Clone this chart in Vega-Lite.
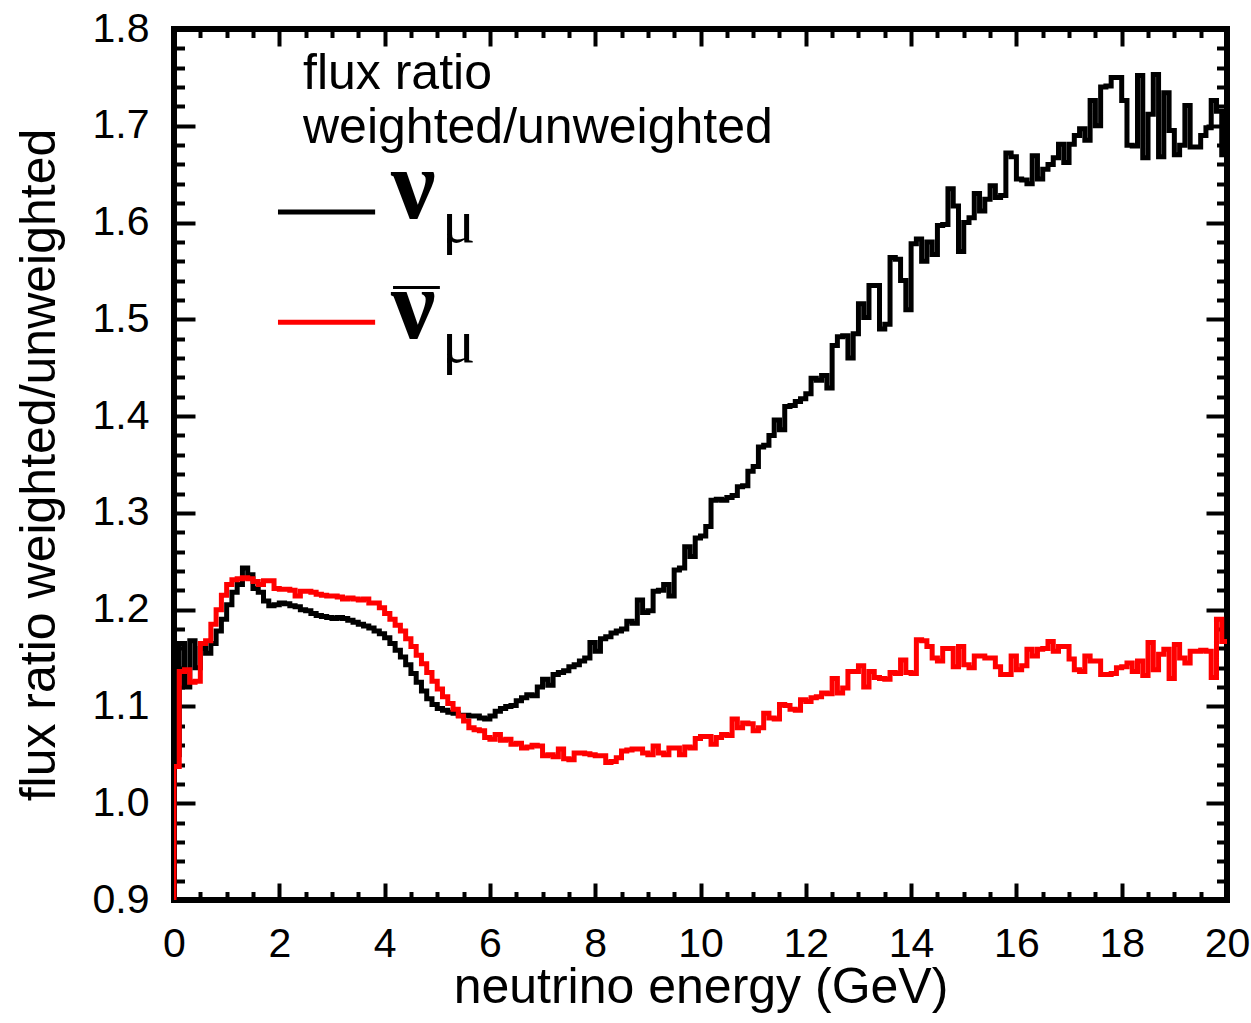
{
"$schema":"https://vega.github.io/schema/vega-lite/v6.json",
"autosize":{"type":"none"},
"padding":{"left":174,"top":29,"right":24,"bottom":123},
"width":1053,"height":871,
"background":"white",
"config":{
 "view":{"stroke":"black","strokeWidth":6},
 "axis":{"domain":false,"grid":false,"tickColor":"black","tickWidth":4,"labelColor":"black","titleColor":"black","labelFont":"Liberation Sans","titleFont":"Liberation Sans","labelFontSize":41,"titleFontSize":50,"titleFontWeight":"normal"}
},
"datasets":{
"flux":[
{"E":0,"numu":0.9,"numubar":0.9},
{"E":0.0,"numu":1.05,"numubar":1.038},
{"E":0.1,"numu":1.165,"numubar":1.136},
{"E":0.2,"numu":1.12,"numubar":1.138},
{"E":0.3,"numu":1.168,"numubar":1.125},
{"E":0.4,"numu":1.14,"numubar":1.126},
{"E":0.5,"numu":1.16,"numubar":1.165},
{"E":0.6,"numu":1.155,"numubar":1.168},
{"E":0.7,"numu":1.165,"numubar":1.185},
{"E":0.8,"numu":1.178,"numubar":1.2},
{"E":0.9,"numu":1.19,"numubar":1.215},
{"E":1.0,"numu":1.205,"numubar":1.226},
{"E":1.1,"numu":1.218,"numubar":1.231},
{"E":1.2,"numu":1.226,"numubar":1.232},
{"E":1.3,"numu":1.243,"numubar":1.233},
{"E":1.4,"numu":1.236,"numubar":1.232},
{"E":1.5,"numu":1.222,"numubar":1.229},
{"E":1.6,"numu":1.218,"numubar":1.226},
{"E":1.7,"numu":1.209,"numubar":1.23},
{"E":1.8,"numu":1.204,"numubar":1.23},
{"E":1.9,"numu":1.205,"numubar":1.222},
{"E":2.0,"numu":1.207,"numubar":1.221},
{"E":2.1,"numu":1.206,"numubar":1.221},
{"E":2.2,"numu":1.204,"numubar":1.22},
{"E":2.3,"numu":1.203,"numubar":1.214},
{"E":2.4,"numu":1.2,"numubar":1.219},
{"E":2.5,"numu":1.199,"numubar":1.219},
{"E":2.6,"numu":1.196,"numubar":1.218},
{"E":2.7,"numu":1.194,"numubar":1.216},
{"E":2.8,"numu":1.193,"numubar":1.215},
{"E":2.9,"numu":1.192,"numubar":1.214},
{"E":3.0,"numu":1.191,"numubar":1.214},
{"E":3.1,"numu":1.192,"numubar":1.213},
{"E":3.2,"numu":1.191,"numubar":1.211},
{"E":3.3,"numu":1.189,"numubar":1.212},
{"E":3.4,"numu":1.187,"numubar":1.211},
{"E":3.5,"numu":1.185,"numubar":1.21},
{"E":3.6,"numu":1.183,"numubar":1.211},
{"E":3.7,"numu":1.181,"numubar":1.207},
{"E":3.8,"numu":1.178,"numubar":1.207},
{"E":3.9,"numu":1.175,"numubar":1.202},
{"E":4.0,"numu":1.171,"numubar":1.196},
{"E":4.1,"numu":1.165,"numubar":1.19},
{"E":4.2,"numu":1.158,"numubar":1.184},
{"E":4.3,"numu":1.151,"numubar":1.178},
{"E":4.4,"numu":1.143,"numubar":1.17},
{"E":4.5,"numu":1.134,"numubar":1.162},
{"E":4.6,"numu":1.125,"numubar":1.153},
{"E":4.7,"numu":1.116,"numubar":1.144},
{"E":4.8,"numu":1.108,"numubar":1.135},
{"E":4.9,"numu":1.102,"numubar":1.126},
{"E":5.0,"numu":1.098,"numubar":1.118},
{"E":5.1,"numu":1.096,"numubar":1.11},
{"E":5.2,"numu":1.094,"numubar":1.103},
{"E":5.3,"numu":1.093,"numubar":1.097},
{"E":5.4,"numu":1.091,"numubar":1.09},
{"E":5.5,"numu":1.091,"numubar":1.085},
{"E":5.6,"numu":1.09,"numubar":1.078},
{"E":5.7,"numu":1.09,"numubar":1.076},
{"E":5.8,"numu":1.088,"numubar":1.075},
{"E":5.9,"numu":1.087,"numubar":1.068},
{"E":6.0,"numu":1.09,"numubar":1.066},
{"E":6.1,"numu":1.095,"numubar":1.071},
{"E":6.2,"numu":1.098,"numubar":1.065},
{"E":6.3,"numu":1.1,"numubar":1.066},
{"E":6.4,"numu":1.101,"numubar":1.061},
{"E":6.5,"numu":1.106,"numubar":1.062},
{"E":6.6,"numu":1.109,"numubar":1.057},
{"E":6.7,"numu":1.112,"numubar":1.058},
{"E":6.8,"numu":1.111,"numubar":1.06},
{"E":6.9,"numu":1.12,"numubar":1.059},
{"E":7.0,"numu":1.128,"numubar":1.049},
{"E":7.1,"numu":1.122,"numubar":1.05},
{"E":7.2,"numu":1.133,"numubar":1.048},
{"E":7.3,"numu":1.135,"numubar":1.056},
{"E":7.4,"numu":1.137,"numubar":1.046},
{"E":7.5,"numu":1.141,"numubar":1.045},
{"E":7.6,"numu":1.143,"numubar":1.052},
{"E":7.7,"numu":1.147,"numubar":1.052},
{"E":7.8,"numu":1.15,"numubar":1.051},
{"E":7.9,"numu":1.166,"numubar":1.05},
{"E":8.0,"numu":1.157,"numubar":1.049},
{"E":8.1,"numu":1.17,"numubar":1.049},
{"E":8.2,"numu":1.172,"numubar":1.042},
{"E":8.3,"numu":1.176,"numubar":1.043},
{"E":8.4,"numu":1.178,"numubar":1.047},
{"E":8.5,"numu":1.18,"numubar":1.054},
{"E":8.6,"numu":1.188,"numubar":1.055},
{"E":8.7,"numu":1.186,"numubar":1.056},
{"E":8.8,"numu":1.21,"numubar":1.056},
{"E":8.9,"numu":1.197,"numubar":1.052},
{"E":9.0,"numu":1.199,"numubar":1.05},
{"E":9.1,"numu":1.219,"numubar":1.059},
{"E":9.2,"numu":1.22,"numubar":1.052},
{"E":9.3,"numu":1.226,"numubar":1.05},
{"E":9.4,"numu":1.214,"numubar":1.057},
{"E":9.5,"numu":1.241,"numubar":1.057},
{"E":9.6,"numu":1.243,"numubar":1.05},
{"E":9.7,"numu":1.265,"numubar":1.058},
{"E":9.8,"numu":1.255,"numubar":1.057},
{"E":9.9,"numu":1.274,"numubar":1.067},
{"E":10.0,"numu":1.276,"numubar":1.069},
{"E":10.1,"numu":1.286,"numubar":1.069},
{"E":10.2,"numu":1.313,"numubar":1.061},
{"E":10.3,"numu":1.314,"numubar":1.068},
{"E":10.4,"numu":1.313,"numubar":1.071},
{"E":10.5,"numu":1.316,"numubar":1.07},
{"E":10.6,"numu":1.318,"numubar":1.087},
{"E":10.7,"numu":1.327,"numubar":1.078},
{"E":10.8,"numu":1.328,"numubar":1.083},
{"E":10.9,"numu":1.343,"numubar":1.082},
{"E":11.0,"numu":1.348,"numubar":1.075},
{"E":11.1,"numu":1.368,"numubar":1.078},
{"E":11.2,"numu":1.37,"numubar":1.093},
{"E":11.3,"numu":1.38,"numubar":1.088},
{"E":11.4,"numu":1.396,"numubar":1.087},
{"E":11.5,"numu":1.386,"numubar":1.102},
{"E":11.6,"numu":1.41,"numubar":1.101},
{"E":11.7,"numu":1.411,"numubar":1.097},
{"E":11.8,"numu":1.415,"numubar":1.096},
{"E":11.9,"numu":1.418,"numubar":1.107},
{"E":12.0,"numu":1.423,"numubar":1.105},
{"E":12.1,"numu":1.439,"numubar":1.109},
{"E":12.2,"numu":1.437,"numubar":1.11},
{"E":12.3,"numu":1.442,"numubar":1.114},
{"E":12.4,"numu":1.429,"numubar":1.113},
{"E":12.5,"numu":1.473,"numubar":1.129},
{"E":12.6,"numu":1.482,"numubar":1.114},
{"E":12.7,"numu":1.483,"numubar":1.119},
{"E":12.8,"numu":1.46,"numubar":1.136},
{"E":12.9,"numu":1.485,"numubar":1.136},
{"E":13.0,"numu":1.516,"numubar":1.142},
{"E":13.1,"numu":1.502,"numubar":1.12},
{"E":13.2,"numu":1.535,"numubar":1.136},
{"E":13.3,"numu":1.535,"numubar":1.13},
{"E":13.4,"numu":1.49,"numubar":1.129},
{"E":13.5,"numu":1.495,"numubar":1.128},
{"E":13.6,"numu":1.564,"numubar":1.135},
{"E":13.7,"numu":1.562,"numubar":1.134},
{"E":13.8,"numu":1.54,"numubar":1.148},
{"E":13.9,"numu":1.51,"numubar":1.135},
{"E":14.0,"numu":1.578,"numubar":1.134},
{"E":14.1,"numu":1.583,"numubar":1.169},
{"E":14.2,"numu":1.56,"numubar":1.168},
{"E":14.3,"numu":1.58,"numubar":1.162},
{"E":14.4,"numu":1.567,"numubar":1.15},
{"E":14.5,"numu":1.597,"numubar":1.147},
{"E":14.6,"numu":1.598,"numubar":1.16},
{"E":14.7,"numu":1.635,"numubar":1.16},
{"E":14.8,"numu":1.617,"numubar":1.141},
{"E":14.9,"numu":1.57,"numubar":1.162},
{"E":15.0,"numu":1.6,"numubar":1.143},
{"E":15.1,"numu":1.605,"numubar":1.14},
{"E":15.2,"numu":1.63,"numubar":1.152},
{"E":15.3,"numu":1.612,"numubar":1.152},
{"E":15.4,"numu":1.624,"numubar":1.15},
{"E":15.5,"numu":1.638,"numubar":1.15},
{"E":15.6,"numu":1.626,"numubar":1.141},
{"E":15.7,"numu":1.628,"numubar":1.133},
{"E":15.8,"numu":1.672,"numubar":1.133},
{"E":15.9,"numu":1.668,"numubar":1.152},
{"E":16.0,"numu":1.645,"numubar":1.138},
{"E":16.1,"numu":1.644,"numubar":1.142},
{"E":16.2,"numu":1.64,"numubar":1.159},
{"E":16.3,"numu":1.669,"numubar":1.152},
{"E":16.4,"numu":1.645,"numubar":1.159},
{"E":16.5,"numu":1.655,"numubar":1.16},
{"E":16.6,"numu":1.66,"numubar":1.167},
{"E":16.7,"numu":1.667,"numubar":1.157},
{"E":16.8,"numu":1.681,"numubar":1.162},
{"E":16.9,"numu":1.662,"numubar":1.162},
{"E":17.0,"numu":1.681,"numubar":1.149},
{"E":17.1,"numu":1.69,"numubar":1.138},
{"E":17.2,"numu":1.697,"numubar":1.136},
{"E":17.3,"numu":1.685,"numubar":1.152},
{"E":17.4,"numu":1.726,"numubar":1.147},
{"E":17.5,"numu":1.7,"numubar":1.147},
{"E":17.6,"numu":1.74,"numubar":1.133},
{"E":17.7,"numu":1.741,"numubar":1.133},
{"E":17.8,"numu":1.75,"numubar":1.134},
{"E":17.9,"numu":1.75,"numubar":1.14},
{"E":18.0,"numu":1.726,"numubar":1.141},
{"E":18.1,"numu":1.68,"numubar":1.145},
{"E":18.2,"numu":1.679,"numubar":1.136},
{"E":18.3,"numu":1.752,"numubar":1.147},
{"E":18.4,"numu":1.667,"numubar":1.132},
{"E":18.5,"numu":1.712,"numubar":1.166},
{"E":18.6,"numu":1.753,"numubar":1.138},
{"E":18.7,"numu":1.668,"numubar":1.154},
{"E":18.8,"numu":1.734,"numubar":1.159},
{"E":18.9,"numu":1.695,"numubar":1.129},
{"E":19.0,"numu":1.67,"numubar":1.164},
{"E":19.1,"numu":1.68,"numubar":1.15},
{"E":19.2,"numu":1.721,"numubar":1.145},
{"E":19.3,"numu":1.678,"numubar":1.157},
{"E":19.4,"numu":1.678,"numubar":1.157},
{"E":19.5,"numu":1.69,"numubar":1.158},
{"E":19.6,"numu":1.698,"numubar":1.157},
{"E":19.7,"numu":1.726,"numubar":1.13},
{"E":19.8,"numu":1.715,"numubar":1.19},
{"E":19.9,"numu":1.67,"numubar":1.167},
{"E":20.0,"numu":1.67,"numubar":1.167}
]
},
"layer":[
{
 "data":{"name":"flux"},
 "mark":{"type":"line","interpolate":"step-after","color":"black","strokeWidth":5,"clip":true},
 "encoding":{
  "x":{"field":"E","type":"quantitative","scale":{"domain":[0,20],"nice":false,"zero":false},
   "axis":{"orient":"bottom","values":[0,2,4,6,8,10,12,14,16,18,20],"tickSize":-17,"labelPadding":41,"title":"neutrino energy (GeV)","titlePadding":-2,"labelFlush":false}},
  "y":{"field":"numu","type":"quantitative","scale":{"domain":[0.9,1.8],"nice":false,"zero":false},
   "axis":{"orient":"left","values":[0.9,1.0,1.1,1.2,1.3,1.4,1.5,1.6,1.7,1.8],"format":".1f","tickSize":-21,"labelPadding":46,"title":"flux ratio weighted/unweighted","titlePadding":28,"labelFlush":false}}
 }
},
{
 "data":{"name":"flux"},
 "mark":{"type":"line","interpolate":"step-after","color":"#ff0000","strokeWidth":5,"clip":true},
 "encoding":{
  "x":{"field":"E","type":"quantitative","scale":{"domain":[0,20],"nice":false,"zero":false},
   "axis":{"orient":"bottom","values":[0.5,1,1.5,2.5,3,3.5,4.5,5,5.5,6.5,7,7.5,8.5,9,9.5,10.5,11,11.5,12.5,13,13.5,14.5,15,15.5,16.5,17,17.5,18.5,19,19.5],"tickSize":-8.5,"labels":false,"title":null}},
  "y":{"field":"numubar","type":"quantitative","scale":{"domain":[0.9,1.8],"nice":false,"zero":false},
   "axis":{"orient":"left","values":[0.92,0.94,0.96,0.98,1.02,1.04,1.06,1.08,1.12,1.14,1.16,1.18,1.22,1.24,1.26,1.28,1.32,1.34,1.36,1.38,1.42,1.44,1.46,1.48,1.52,1.54,1.56,1.58,1.62,1.64,1.66,1.68,1.72,1.74,1.76,1.78],"tickSize":-10.5,"labels":false,"title":null}}
 }
},
{
 "data":{"values":[{"x1":1.975,"x2":3.82,"y":1.611,"s":"numu"},{"x1":1.975,"x2":3.82,"y":1.497,"s":"numubar"}]},
 "mark":{"type":"rule","strokeWidth":5},
 "encoding":{
  "x":{"field":"x1","type":"quantitative","scale":{"domain":[0,20],"nice":false,"zero":false},
   "axis":{"orient":"top","values":[0,2,4,6,8,10,12,14,16,18,20],"tickSize":-17,"labels":false,"title":null}},
  "x2":{"field":"x2"},
  "y":{"field":"y","type":"quantitative","scale":{"domain":[0.9,1.8],"nice":false,"zero":false},
   "axis":{"orient":"right","values":[0.9,1.0,1.1,1.2,1.3,1.4,1.5,1.6,1.7,1.8],"tickSize":-21,"labels":false,"title":null}},
  "color":{"field":"s","type":"nominal","scale":{"domain":["numu","numubar"],"range":["black","#ff0000"]},"legend":null}
 }
},
{
 "data":{"values":[{"x":2.45,"y":1.738,"t":"flux ratio"},{"x":2.45,"y":1.682,"t":"weighted/unweighted"}]},
 "mark":{"type":"text","align":"left","baseline":"alphabetic","font":"Liberation Sans","fontSize":50,"color":"black"},
 "encoding":{
  "x":{"field":"x","type":"quantitative","scale":{"domain":[0,20],"nice":false,"zero":false},
   "axis":{"orient":"top","values":[0.5,1,1.5,2.5,3,3.5,4.5,5,5.5,6.5,7,7.5,8.5,9,9.5,10.5,11,11.5,12.5,13,13.5,14.5,15,15.5,16.5,17,17.5,18.5,19,19.5],"tickSize":-8.5,"labels":false,"title":null}},
  "y":{"field":"y","type":"quantitative","scale":{"domain":[0.9,1.8],"nice":false,"zero":false},
   "axis":{"orient":"right","values":[0.92,0.94,0.96,0.98,1.02,1.04,1.06,1.08,1.12,1.14,1.16,1.18,1.22,1.24,1.26,1.28,1.32,1.34,1.36,1.38,1.42,1.44,1.46,1.48,1.52,1.54,1.56,1.58,1.62,1.64,1.66,1.68,1.72,1.74,1.76,1.78],"tickSize":-10.5,"labels":false,"title":null}},
  "text":{"field":"t"}
 }
},
{
 "data":{"values":[{"x":4.12,"y":1.605,"t":"ν"},{"x":4.12,"y":1.481,"t":"ν"}]},
 "mark":{"type":"text","align":"left","baseline":"alphabetic","font":"Liberation Serif","fontWeight":"bold","fontSize":100,"color":"black"},
 "encoding":{
  "x":{"field":"x","type":"quantitative","axis":null},
  "y":{"field":"y","type":"quantitative","axis":null},
  "text":{"field":"t"}
 }
},
{
 "data":{"values":[{"x":5.09,"y":1.58,"t":"μ"},{"x":5.09,"y":1.456,"t":"μ"}]},
 "mark":{"type":"text","align":"left","baseline":"alphabetic","font":"Liberation Serif","fontSize":62,"color":"black"},
 "encoding":{
  "x":{"field":"x","type":"quantitative","axis":null},
  "y":{"field":"y","type":"quantitative","axis":null},
  "text":{"field":"t"}
 }
},
{
 "data":{"values":[{"x1":4.16,"x2":5.05,"y":1.533}]},
 "mark":{"type":"rule","strokeWidth":3,"color":"black"},
 "encoding":{
  "x":{"field":"x1","type":"quantitative","axis":null},
  "x2":{"field":"x2"},
  "y":{"field":"y","type":"quantitative","axis":null}
 }
}
],
"resolve":{"axis":{"x":"independent","y":"independent"}}
}
